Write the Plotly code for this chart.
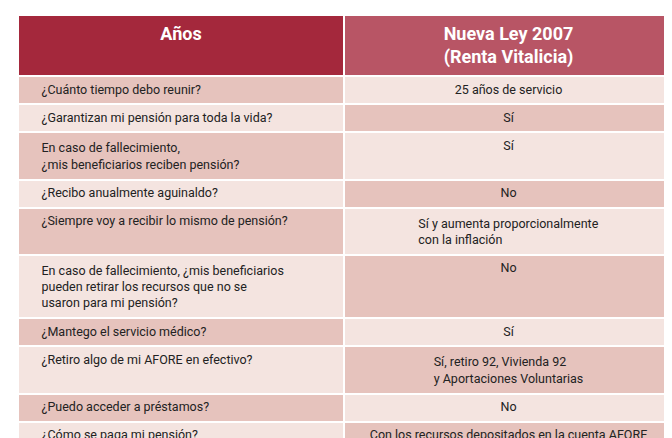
import plotly.graph_objects as go

header = ["<b>Años</b>", "<b>Nueva Ley 2007<br>(Renta Vitalicia)</b>"]
preguntas = [
    "¿Cuánto tiempo debo reunir?",
    "¿Garantizan mi pensión para toda la vida?",
    "En caso de fallecimiento,<br>¿mis beneficiarios reciben pensión?",
    "¿Recibo anualmente aguinaldo?",
    "¿Siempre voy a recibir lo mismo de pensión?",
    "En caso de fallecimiento, ¿mis beneficiarios<br>pueden retirar los recursos que no se<br>usaron para mi pensión?",
    "¿Mantego el servicio médico?",
    "¿Retiro algo de mi AFORE en efectivo?",
    "¿Puedo acceder a préstamos?",
    "¿Cómo se paga mi pensión?",
]
respuestas = [
    "25 años de servicio",
    "Sí",
    "Sí",
    "No",
    "Sí y aumenta proporcionalmente<br>con la inflación",
    "No",
    "Sí",
    "Sí, retiro 92, Vivienda 92<br>y Aportaciones Voluntarias",
    "No",
    "Con los recursos depositados en la cuenta AFORE",
]

pad = "\u00a0" * 5
left = [pad + q.replace("<br>", "<br>" + pad) for q in preguntas]

dark, light = "#e6c3bd", "#f4e4e0"
fill_left = [dark if i % 2 == 0 else light for i in range(len(preguntas))]
fill_right = [light if i % 2 == 0 else dark for i in range(len(preguntas))]

font_family = "Roboto, Liberation Sans Narrow, sans-serif"

fig = go.Figure(go.Table(
    domain=dict(x=[10 / 672, 665 / 672], y=[0, 1]),
    columnwidth=[326, 329],
    header=dict(
        values=header,
        fill_color=["#a4283c", "#b85565"],
        line=dict(color="white", width=2),
        align="center",
        height=52,
        font=dict(family=font_family, size=18, color="white"),
    ),
    cells=dict(
        values=[left, respuestas],
        fill_color=[fill_left, fill_right],
        line=dict(color="white", width=2),
        align=["left", "center"],
        height=28,
        font=dict(family=font_family, size=12.5, color="#222222"),
    ),
))

fig.update_layout(
    width=672, height=438,
    margin=dict(l=0, r=0, t=7, b=0),
    paper_bgcolor="white",
)

fig.write_html("out.html")
